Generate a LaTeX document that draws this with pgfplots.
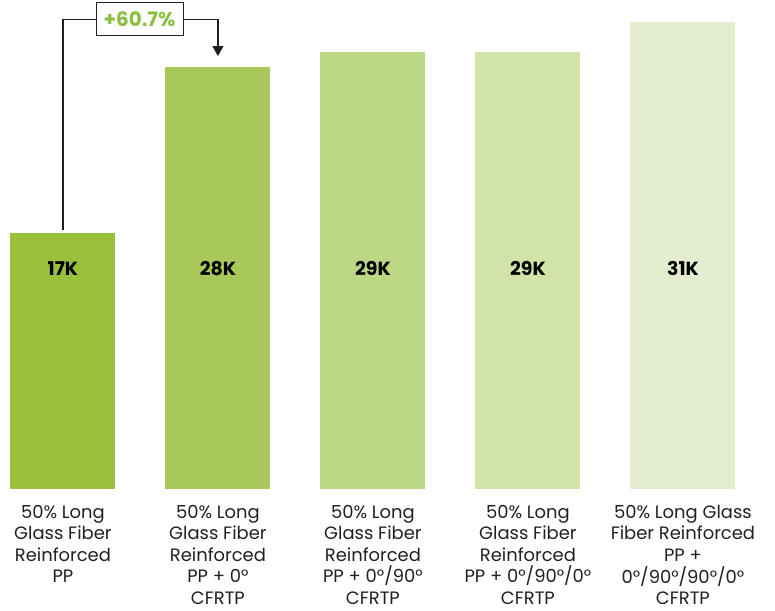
\documentclass[border=0pt]{standalone}
\usepackage{pgfplots}
\pgfplotsset{compat=1.18}
\usepackage{fontspec}
\setmainfont{Poppins}
\usetikzlibrary{arrows.meta}

\definecolor{barA}{RGB}{154,193,60}
\definecolor{barB}{RGB}{168,200,90}
\definecolor{barC}{RGB}{188,216,132}
\definecolor{barD}{RGB}{210,227,168}
\definecolor{barE}{RGB}{228,237,207}
\definecolor{txtgray}{RGB}{35,31,32}
\definecolor{pctgreen}{RGB}{141,191,63}

\begin{document}
\begin{tikzpicture}
\begin{axis}[
    scale only axis,
    width=775bp, height=489bp,
    xmin=-0.406, xmax=4.594,
    ymin=0, ymax=32.47,
    axis line style={draw=none},
    major tick length=0pt,
    ytick=\empty,
    xtick={0,1,2,3,4},
    xticklabels={
        {50\% Long\\Glass Fiber\\Reinforced\\PP},
        {50\% Long\\Glass Fiber\\Reinforced\\PP + 0°\\CFRTP},
        {50\% Long\\Glass Fiber\\Reinforced\\PP + 0°/90°\\CFRTP},
        {50\% Long\\Glass Fiber\\Reinforced\\PP + 0°/90°/0°\\CFRTP},
        {50\% Long Glass\\Fiber Reinforced\\PP +\\0°/90°/90°/0°\\CFRTP}
    },
    xticklabel style={align=center, text=txtgray, anchor=north,
        inner sep=0pt, yshift=-16bp,
        font=\fontsize{18}{21.6}\selectfont},
    clip=false,
]
\addplot[ybar, bar width=105bp, bar shift=0pt, draw=none, fill=barA] coordinates {(0,17)};
\addplot[ybar, bar width=105bp, bar shift=0pt, draw=none, fill=barB] coordinates {(1,28)};
\addplot[ybar, bar width=105bp, bar shift=0pt, draw=none, fill=barC] coordinates {(2,29)};
\addplot[ybar, bar width=105bp, bar shift=0pt, draw=none, fill=barD] coordinates {(3,29)};
\addplot[ybar, bar width=105bp, bar shift=0pt, draw=none, fill=barE] coordinates {(4,31)};

% value labels, all on one line across the bars
\addplot[only marks, mark=none, nodes near coords, point meta=explicit symbolic,
    every node near coord/.style={anchor=center, text=black,
        font=\bfseries\fontsize{19}{19}\selectfont}]
    coordinates {(0,14.64)[17K] (1,14.64)[28K] (2,14.64)[29K] (3,14.64)[29K] (4,14.64)[31K]};

% growth annotation
\draw[color=txtgray, line width=1.2bp, -{Triangle[length=10bp, width=11bp]}]
    (axis cs:0,17.2) |- (axis cs:1,31.2) -- (axis cs:1,28.75);
\node[draw=txtgray, line width=1bp, fill=white, minimum width=87bp, minimum height=33bp,
    inner sep=2bp, text=pctgreen, font=\bfseries\fontsize{20}{20}\selectfont]
    at (axis cs:0.494,31.2) {+60.7\%};
\end{axis}
\pgfresetboundingbox
\useasboundingbox (0,-122bp) rectangle (775bp,489bp);
\end{tikzpicture}
\end{document}
